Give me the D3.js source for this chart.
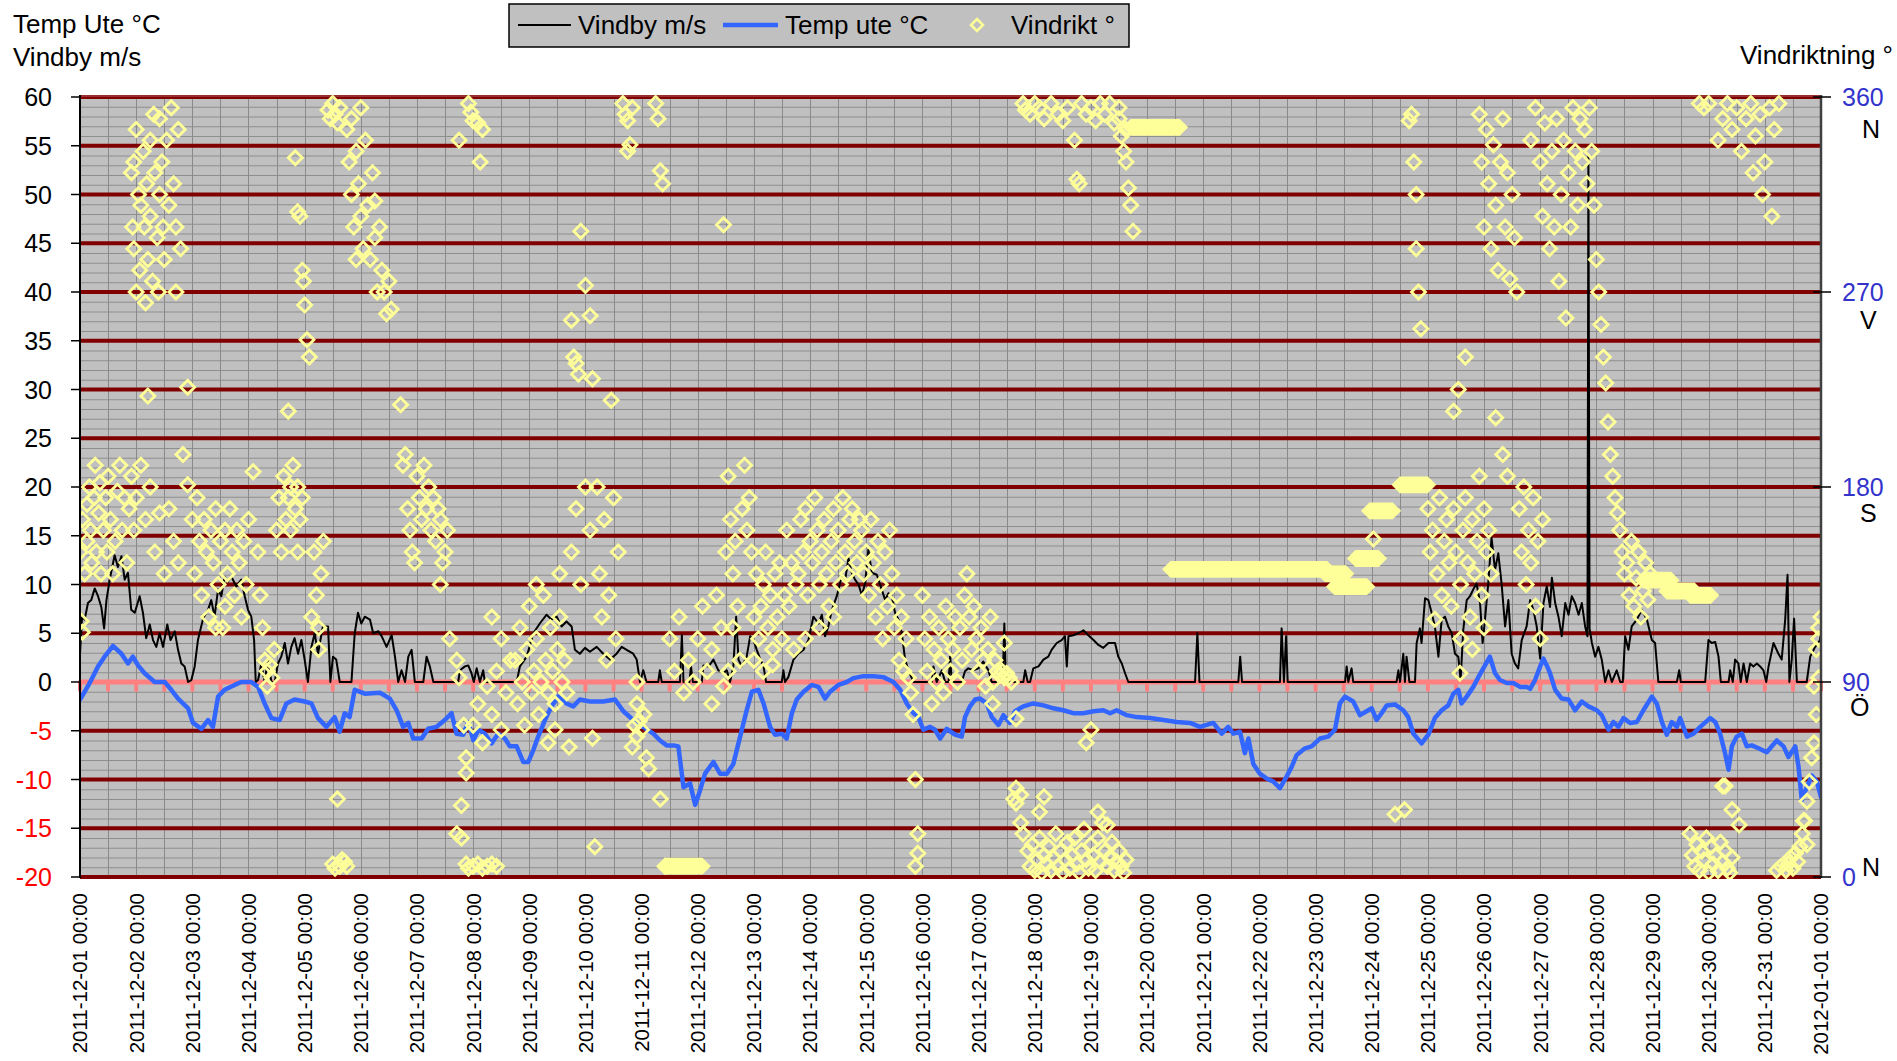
<!DOCTYPE html>
<html>
<head>
<meta charset="utf-8">
<script src="https://cdn.jsdelivr.net/npm/d3@7/dist/d3.min.js"></script>
<style>
  body { margin: 0; background: #ffffff; }
  svg text { font-family: "Liberation Sans", Arial, sans-serif; }
</style>
</head>
<body>
<svg id="chart" width="1897" height="1061"></svg>
<script>
////////////////////////////////////////////////////////////////////////
//
// Data. Time is hours after 2011-12-01 00:00
//
////////////////////////////////////////////////////////////////////////
var periodStart = "2011-12-01";
var periodHours = 744;

// Temp ute °C  [hour, value]
var tempUte = [
  [0,-1.8],[2.0,-1.0],[4.8,0.2],[7.7,1.6],[10.5,2.6],[14.1,3.7],[17.7,2.9],[20.5,1.9],[22.6,2.6],[24.8,1.7],
  [27.6,0.9],[31.9,0],[36.2,0],[39.0,-0.8],[41.9,-1.7],[46.2,-2.7],[48.3,-4.2],[51.9,-4.8],[54.7,-3.9],[56.8,-4.6],
  [59.0,-1.5],[61.8,-0.8],[66.1,-0.3],[68.9,0],[73.2,0],[76.1,-0.5],[78.9,-2.2],[81.8,-3.7],[85.3,-3.9],[88.2,-2.2],
  [91.7,-1.8],[96.0,-2.0],[98.9,-2.2],[101.7,-3.7],[105.3,-4.6],[108.8,-3.6],[111.0,-5.1],[113.1,-3.2],[115.2,-3.6],[117.4,-0.8],
  [121.7,-1.2],[128.2,-1.1],[132.4,-1.7],[135.3,-2.9],[138.1,-4.6],[140.3,-4.2],[142.4,-5.8],[146.0,-5.8],[148.8,-4.8],[152.4,-4.6],
  [155.9,-3.9],[158.8,-3.2],[160.9,-5.3],[163.8,-5.4],[165.9,-4.1],[168.1,-6.0],[170.2,-4.9],[173.0,-5.3],[175.9,-6.3],[178.7,-5.3],
  [181.6,-5.8],[183.7,-6.6],[186.6,-6.6],[189.4,-8.2],[191.6,-8.2],[193.7,-7.0],[195.8,-5.6],[198.7,-3.9],[201.5,-2.5],[204.4,-1.5],
  [207.9,-2.2],[210.8,-2.5],[213.6,-1.8],[217.9,-2.0],[223.6,-2.0],[228.6,-1.8],[232.2,-3.0],[236.4,-3.9],[240.7,-4.6],[245.0,-5.3],
  [247.9,-6.0],[250.7,-6.5],[253.6,-6.5],[255.7,-6.6],[257.9,-10.8],[260.7,-10.4],[262.9,-12.6],[265.0,-11.1],[267.1,-9.4],[270.7,-8.2],
  [273.5,-9.4],[276.4,-9.4],[279.2,-8.4],[282.1,-5.6],[284.9,-2.9],[287.1,-1.0],[289.9,-0.8],[292.1,-2.2],[294.9,-4.6],[297.0,-5.4],
  [299.9,-5.3],[302.0,-5.8],[304.2,-3.2],[306.3,-1.8],[309.2,-1.0],[312.7,-0.3],[315.6,-0.5],[318.4,-1.7],[320.5,-1.0],[324.1,-0.3],
  [327.7,0],[330.5,0.4],[334.8,0.6],[339.1,0.6],[343.3,0.5],[347.6,0],[350.5,-0.8],[353.3,-2.2],[356.2,-3.2],[358.3,-3.6],
  [360.4,-4.9],[363.3,-4.6],[365.4,-4.9],[367.6,-5.8],[370.4,-4.8],[373.9,-5.4],[376.8,-5.6],[378.2,-3.6],[380.3,-2.5],[382.5,-1.8],
  [384.6,-1.7],[387.5,-2.2],[389.6,-3.6],[392.5,-4.4],[394.6,-3.4],[397.4,-4.2],[399.6,-3.0],[403.1,-2.5],[407.4,-2.2],[411.7,-2.4],
  [416.0,-2.7],[420.2,-2.9],[424.5,-3.2],[428.8,-3.2],[433.1,-3.0],[437.3,-2.9],[440.2,-3.2],[443.0,-2.9],[447.3,-3.4],[451.6,-3.6],
  [457.3,-3.7],[463.0,-3.9],[468.7,-4.1],[474.4,-4.2],[478.6,-4.6],[484.3,-4.2],[487.9,-5.3],[490.7,-4.6],[492.9,-5.3],[495.7,-5.1],
  [497.8,-7.3],[499.3,-5.8],[501.4,-8.4],[504.2,-9.4],[507.1,-9.9],[509.9,-10.2],[512.8,-10.9],[515.6,-9.7],[517.8,-8.7],[519.9,-7.5],
  [523.5,-6.8],[526.3,-6.6],[529.9,-5.8],[533.4,-5.6],[536.3,-4.9],[538.4,-2.2],[540.6,-1.5],[544.1,-2.0],[547.0,-3.4],[549.8,-3.0],
  [552.0,-2.7],[554.1,-3.9],[556.2,-3.2],[558.4,-2.4],[561.9,-2.3],[565.5,-2.9],[567.6,-3.6],[569.8,-5.3],[573.3,-6.3],[576.2,-5.4],
  [579.0,-3.7],[581.9,-2.9],[584.7,-2.4],[586.9,-1.2],[589.0,-0.8],[590.4,-2.2],[592.6,-1.5],[595.4,-0.5],[597.6,0.5],[599.7,1.4],
  [602.5,2.6],[604.7,0.9],[606.8,0.2],[609.7,-0.1],[612.5,-0.1],[615.4,-0.5],[618.2,-0.5],[619.7,-0.7],[621.8,0.2],[624.0,1.6],
  [625.4,2.4],[626.8,1.7],[628.2,0.9],[630.4,-0.8],[633.2,-1.7],[636.1,-1.8],[638.9,-2.9],[641.8,-2.0],[644.6,-2.5],[648.2,-2.9],
  [650.3,-3.4],[653.2,-4.9],[655.3,-4.1],[657.4,-4.6],[659.6,-3.7],[662.4,-4.2],[665.3,-4.1],[668.1,-2.9],[671.7,-1.5],[673.8,-2.2],
  [676.0,-4.1],[678.1,-5.4],[680.2,-4.1],[682.4,-4.6],[683.8,-3.7],[686.7,-5.6],[689.5,-5.3],[692.4,-4.6],[696.6,-3.7],[698.8,-4.1],
  [700.9,-5.3],[703.0,-7.3],[704.5,-9.0],[705.9,-6.6],[708.0,-5.6],[710.2,-5.3],[712.3,-6.6],[714.4,-6.5],[717.3,-6.8],[720.8,-7.2],
  [725.1,-6.0],[728.0,-6.6],[730.1,-7.7],[733.0,-6.6],[734.4,-8.7],[735.8,-12.1],[737.9,-10.8],[740.1,-9.6],[742.2,-10.2],[744,-11.8]
];

// Vindby m/s  [hour, value]
var vindby = [
  [0,2.9],[0.9,6.7],[2.0,6.4],[3.4,8.1],[4.8,8.4],[6.3,9.6],[7.7,8.8],[9.1,7.7],[10.3,5.5],[11.3,8.4],
  [12.7,10.5],[14.8,13.0],[16.2,11.8],[17.7,12.9],[19.1,10.5],[20.5,11.2],[21.9,7.4],[23.4,7.1],[25.5,8.8],[26.9,7.1],
  [28.3,4.5],[29.8,5.9],[31.2,4.3],[32.6,3.6],[34.0,5.0],[35.5,3.6],[37.3,5.9],[38.7,4.3],[40.5,5.2],[41.9,3.3],
  [43.3,1.9],[44.7,1.6],[46.2,0],[47.6,0.2],[49.0,1.6],[50.4,4.3],[52.6,6.5],[54.7,7.4],[56.1,8.4],[57.5,6.7],
  [59.0,9.5],[60.4,8.8],[61.8,10.8],[63.2,10.3],[64.7,10.8],[66.8,9.8],[68.9,10.5],[70.4,8.8],[71.8,7.4],[73.2,6.7],
  [74.4,4.3],[75.1,0],[76.1,0.2],[77.5,1.9],[78.9,0],[80.3,2.3],[81.8,0],[83.2,0],[84.6,1.9],[86.0,2.6],
  [87.5,4.0],[88.9,1.9],[90.3,3.6],[91.7,4.5],[93.2,2.9],[94.6,4.3],[96.0,2.3],[97.4,0],[98.9,3.6],[100.3,5.0],
  [101.7,2.9],[103.8,5.7],[106.0,5.7],[107.0,0],[108.1,2.6],[109.5,2.3],[111.0,0],[116.0,0],[117.4,5.0],[118.8,7.1],
  [120.2,6.0],[121.7,6.7],[123.9,6.4],[125.3,5.0],[127.5,5.2],[128.9,4.7],[131.0,3.6],[133.2,4.8],[134.6,2.6],[136.0,0],
  [137.4,1.2],[138.9,0],[140.3,2.6],[141.7,3.3],[143.1,0],[146.7,0],[148.1,2.6],[149.5,1.6],[151.0,0],[161.6,0],
  [162.4,1.2],[164.5,1.6],[165.9,1.7],[167.3,0.9],[168.3,0],[169.5,1.4],[170.9,0],[172.3,1.2],[173.0,0],[186.6,0],
  [188.0,1.6],[190.9,2.6],[193.7,5.0],[196.5,6.0],[199.4,6.9],[201.5,6.4],[203.7,6.7],[205.8,5.7],[207.9,6.2],[210.1,5.7],
  [211.5,3.3],[213.6,2.9],[215.8,3.5],[217.9,3.1],[220.8,3.6],[223.6,2.9],[226.5,2.3],[229.3,2.9],[231.5,3.6],[233.6,3.3],
  [236.4,2.9],[237.9,2.3],[239.3,0],[240.7,1.2],[242.1,0],[247.1,0],[247.8,1.2],[248.6,0],[256.4,0],[257.2,4.8],
  [257.9,0],[260.4,0],[261.1,1.6],[261.9,0],[265.7,0],[266.4,1.7],[268.6,1.6],[270.7,2.3],[272.8,1.2],[275.0,0.9],
  [276.4,1.2],[277.8,0],[279.2,1.6],[280.4,6.7],[281.4,2.3],[282.8,1.6],[284.9,2.6],[286.4,4.7],[287.8,4.3],[289.2,3.3],
  [290.6,2.4],[292.1,1.6],[293.2,0],[299.9,0],[300.6,1.2],[301.3,0],[302.7,0.5],[304.9,2.3],[307.0,2.9],[309.2,3.3],
  [311.3,4.3],[313.4,6.7],[315.6,6.0],[317.0,6.9],[318.4,4.7],[319.8,5.7],[321.3,7.4],[323.4,8.8],[325.5,10.8],[327.0,10.5],
  [328.4,12.7],[329.8,11.2],[331.2,10.5],[332.7,10.0],[334.1,8.9],[335.5,10.1],[336.9,13.6],[338.4,11.2],[340.5,11.0],[342.6,9.5],
  [344.1,8.4],[345.5,9.1],[346.9,8.8],[348.3,7.1],[349.8,6.4],[351.2,5.0],[352.6,2.3],[354.0,1.2],[356.2,0],[364.0,0],
  [364.7,1.6],[366.1,0],[368.3,1.2],[369.7,0],[371.2,0],[371.8,2.6],[372.6,0],[376.8,0],[378.2,1.1],[379.6,1.4],
  [381.8,1.2],[383.9,1.4],[386.0,2.1],[388.2,1.2],[389.6,0],[394.3,0],[395.0,6.0],[395.7,0],[403.1,0],[403.9,1.2],
  [405.0,0],[406.0,0],[407.4,1.4],[409.6,1.6],[411.7,2.3],[413.8,2.6],[415.2,3.3],[417.4,4.0],[419.5,4.3],[420.9,4.7],
  [421.7,1.6],[422.4,4.7],[424.5,4.8],[426.6,5.0],[428.8,5.3],[430.9,4.8],[433.1,4.3],[435.2,3.8],[437.3,3.5],[439.5,4.0],
  [442.3,4.0],[443.7,2.6],[445.2,1.9],[446.6,0.9],[448.0,0],[476.5,0],[477.5,5.0],[478.4,0],[495.0,0],[495.8,2.6],
  [496.6,0],[512.8,0],[513.5,5.5],[514.5,0],[515.4,4.7],[516.1,0],[540.6,0],[541.3,1.6],[542.0,0],[543.4,1.4],
  [544.1,0],[562.6,0],[563.4,1.2],[564.1,0],[565.5,2.9],[566.2,0],[566.9,2.6],[568.1,0],[570.5,0],[571.2,4.0],
  [572.6,5.5],[573.3,4.0],[574.8,8.6],[576.2,8.4],[577.6,7.1],[579.0,5.7],[580.5,2.6],[581.9,6.4],[583.3,6.7],[584.7,5.7],
  [586.2,5.0],[587.6,2.9],[589.0,2.6],[590.0,0.2],[591.1,5.3],[592.6,8.4],[594.0,8.8],[595.4,9.5],[596.8,10.1],[598.3,8.1],
  [599.4,4.0],[600.4,6.4],[601.8,10.1],[603.2,14.8],[604.7,11.5],[606.1,13.2],[607.5,10.1],[609.0,5.7],[610.4,8.4],[611.8,2.9],
  [613.2,1.9],[614.6,1.4],[616.1,4.3],[618.2,5.7],[619.7,8.4],[621.1,7.4],[622.5,5.7],[624.0,2.4],[625.4,8.1],[626.8,9.8],
  [628.2,7.7],[629.0,10.7],[630.4,8.1],[631.8,6.7],[633.2,4.7],[634.7,8.1],[636.1,6.9],[637.5,8.8],[638.9,8.1],[640.4,6.9],
  [641.8,8.1],[643.2,5.7],[644.2,4.7],[644.6,54],[645.1,5.5],[646.1,4.0],[647.5,2.6],[648.9,3.6],[650.3,2.3],[651.8,0],
  [653.2,1.2],[654.6,0],[656.7,1.2],[658.2,0],[659.3,0],[660.3,4.7],[661.7,3.3],[663.1,5.7],[665.3,6.4],[667.4,7.4],
  [669.6,6.4],[671.7,4.3],[673.1,4.0],[674.5,0],[682.4,0],[683.4,1.2],[684.1,0],[694.5,0],[695.9,4.3],[697.3,4.0],
  [698.8,4.1],[700.2,2.6],[701.2,0],[704.5,0],[705.2,1.2],[706.3,0],[707.3,2.3],[708.7,1.9],[709.7,0],[710.9,1.9],
  [712.3,0],[713.7,1.9],[715.1,1.6],[716.6,1.9],[718.0,1.6],[719.4,1.2],[720.6,0],[721.6,1.6],[723.7,4.0],[725.8,2.9],
  [727.2,2.3],[728.7,6.4],[729.7,11.0],[730.5,0],[731.5,2.3],[732.5,6.5],[733.7,0],[737.9,0],[739.4,2.6],[741.5,3.6],
  [743.6,4.3],[744,5.5]
];

// Vindrikt °  [hour, degrees]
var vindrikt = [
  [0,150],[1,165],[0.5,118],[1,113],[2,140],[3,172],[3,155],[4,180],[4.5,160],[5,145],[6,175],[6.5,190],[7,150],[8,168],
  [8.5,182],[9,140],[10,160],[11,175],[11.5,150],[12,185],[13,165],[14,140],[15,155],[16,178],[17,190],[18,160],[19,175],
  [20,145],[21,170],[22,185],[23,160],
  [22,325],[22.5,300],[23,330],[23,290],[24,270],[24,345],[25,315],[25.5,280],[26,310],[27,335],[27.5,300],[28,265],
  [28.5,320],[29,285],[30,340],[30,305],[31,275],[31.5,352],[32,325],[33,295],[33.5,270],[34,350],[34,315],[35,330],
  [35.5,300],[36,285],[37,340],[38,310],[39,355],[40,320],[41,300],[41,270],[42,345],[43,290],[29,222],
  [24,175],[26,190],[28,165],[30,180],[32,150],[34,168],[36,140],[38,170],[40,155],[42,145],
  [46,226],[44,195],[46,181],[48,165],[49,140],[50,175],[51,155],[52,130],[53,165],[54,150],[55,120],[56,160],[57,145],
  [58,170],[59,135],[60,155],[61,115],[62,160],[63,140],[64,170],[65,150],[66,130],[67,160],[68,145],[69,120],[70,155],
  [71,135],[72,165],[62,125],[58,115],
  [74,187],[76,150],[77,130],[78,115],[79,100],[80,95],[81,98],[82,92],[83,105],[80,88],[84,160],[85,175],[86,150],
  [87,185],[88,165],[89,175],[90,180],[90,160],[91,190],[92,170],[93,180],[94,165],[95,175],[93,150],[89,215],
  [92,332],[93,307],[94,305],[95,280],[95.5,275],[96,264],[97,248],[98,240],
  [100,150],[101,130],[102,115],[103,140],[104,155],[102,105],[99,120],
  [106,354],[107,350],[108,357],[109,352],[110,348],[111,355],
  [110,36],[112,8],[108,6],[109,4],[111,5],[113,7],[114,5],
  [114,345],[115,330],[116,315],[117,300],[118,335],[118,285],[119,320],[120,305],[121,290],[122,340],[123,310],[124,285],
  [125,325],[126,295],[127,270],[128,300],[129,280],[130,270],[131,260],[132,275],[133,262],[116,350],[120,355],[126,312],
  [137,218],[138,190],[139,195],[140,170],[141,160],[142,150],[143,145],[144,185],[145,175],[146,165],[147,190],[148,170],
  [149,180],[150,160],[151,175],[152,155],[153,170],[154,165],[155,145],[156,150],[157,160],[158,110],[154,135],
  [162,340],[166,357],[167,353],[168,349],[170,348],[172,345],[171,330],
  [161,100],[162,92],[164,70],[165,55],[165,48],[163,33],[161,20],[163,18],[165,6],[166,4],[168,5],[170,6],[172,4],
  [174,5],[176,6],[178,5],
  [168,70],[170,80],[172,62],[174,88],[176,75],[178,95],[180,68],[182,85],[184,100],[180,110],[176,120],
  [186,100],[187,80],[188,115],[189,90],[190,70],[191,105],[192,125],[193,85],[194,95],[195,110],[196,75],[197,90],
  [198,130],[199,100],[200,85],[201,115],[202,95],[203,80],[204,105],[205,120],[206,90],[207,100],[208,85],[209,60],
  [200,62],[203,68],[195,135],[205,140],
  [210,257],[211,240],[212,237],[213,232],[214,298],[216,273],[218,259],[219,230],[210,150],[212,170],[214,135],[216,180],
  [218,160],[219,64],[220,14],[221,180],[222,140],[223,120],[224,165],[225,100],[226,130],[227,220],[228,175],[229,110],
  [230,150],
  [232,357],[233,352],[234,349],[234,335],[235,338],[236,355],
  [236,60],[237,70],[238,80],[238,65],[239,72],[240,68],[241,75],[242,55],[243,50],[238,90],
  [246,357],[247,350],[248,326],[249,320],[248,36],[250,5],
  [252,110],[254,95],[256,120],[258,85],[260,100],
  [262,90],[264,110],[266,125],[268,95],[270,105],[272,130],[274,115],[275,301],[276,150],[277,185],[278,165],[279,140],
  [280,155],[281,125],[282,100],[277,95],[279,115],[270,80],[275,88],
  [283,170],[284,190],[285,160],[286,175],[287,150],[288,120],[289,140],[290,110],[291,125],[292,135],[293,150],[294,115],
  [295,130],[296,105],[297,140],[298,120],[299,145],[300,110],[301,130],[302,160],[303,125],[304,145],[305,105],[306,135],
  [288,100],[292,95],[296,98],
  [307,140],[308,165],[309,150],[310,170],[311,130],[312,155],[313,145],[314,175],[315,160],[316,135],[317,150],[318,165],
  [319,140],[320,125],[321,155],[322,170],[323,145],[324,160],[325,135],[326,175],[327,150],[328,140],[329,165],[310,110],
  [316,115],[322,120],
  [330,170],[331,155],[332,145],[333,165],[334,160],[335,140],[336,150],[337,130],[338,165],[339,145],[340,120],[341,155],
  [342,135],[343,110],[344,150],[345,125],[346,160],[347,140],[348,115],[349,130],[350,100],[351,120],[352,95],[353,110],
  [354,92],[355,85],[356,75],[357,45],[358,20],[358,11],[357,5],[360,130],[361,110],[362,95],[363,120],[364,80],[365,105],
  [366,90],[367,115],[368,100],[369,85],[370,125],[371,110],[372,95],[373,105],[374,120],[375,90],[376,115],[377,100],
  [378,130],
  [379,140],[380,120],[381,105],[382,125],[383,110],[384,95],[385,115],[386,100],[387,88],[388,105],[389,120],[390,90],
  [391,100],[392,95],[393,93],[394,95],[395,92],[396,94],[397,92],[398,90],[399,36],[400,34],[395,108],[390,80],
  [400,73],[432,68],[430,62],[400,41],[402,38],[412,37],[402,25],[439,24],
  [403,20],[405,12],[406,5],[407,15],[408,3],[409,8],[410,18],[411,2],[412,10],[413,6],[414,14],[415,3],[416,9],[417,20],
  [418,5],[419,12],[420,2],[421,8],[422,16],[423,4],[424,10],[425,18],[426,6],[427,2],[428,12],[429,22],[430,8],[431,4],
  [432,15],[433,10],[434,3],[435,18],[436,7],[437,25],[438,12],[439,5],[440,9],[441,16],[442,3],[443,7],[444,12],[445,5],
  [446,2],[447,8],[410,30],[435,30],
  [403,357],[404,354],[406,352],[408,357],[410,355],[412,350],[415,357],[418,352],[420,349],[422,355],[425,340],[426,322],
  [427,320],[428,357],[430,352],[432,355],[434,349],[436,357],[438,352],[440,357],[442,348],[444,350],[445,342],[446,335],
  [447,330],[448,318],[449,310],[450,298],[447,345],[444,355],
  [552.7,156],[562,29],[566,31],[568,349],[569,352],[570,330],[571,315],[571,290],[572,270],[573,253],
  [576,170],[577,150],[578,160],[579,119],[580,140],[581,175],[582,130],[583,155],[584,165],[585,145],[586,125],[587,170],
  [588,150],[589.7,94],[590,135],[591,160],[592,175],[593,145],[594,120],[595,165],[596,140],[597,155],[598,185],[599,130],
  [600,170],[601,150],[602,160],[603,140],[590,110],[595,105],[600,115],[587,215],[589,225],[592,240],
  [598,352],[599,330],[600,300],[601,345],[602,320],[603,290],[604,338],[605,310],[606,280],[607,330],[608,350],[609,300],
  [610,325],[611,276],[612,315],[613,295],[614,270],[605,212],[608,195],[610,185],
  [615,170],[616,150],[617,180],[618,135],[619,160],[620,145],[621,175],[622,125],[623,155],[624,110],[625,165],
  [620,340],[622,355],[624,330],[625,305],[626,348],[627,320],[628,290],[629,335],[630,300],[631,350],[632,275],[633,315],
  [634,340],[635,258],[636,325],[637,300],[638,355],[639,335],[640,310],[641,350],[642,330],[643,345],[644,320],[645,355],
  [646,335],[647,310],
  [648,285],[649,270],[650,255],[651,240],[652,228],[653,210],[654,195],[655,185],[656,175],[657,168],[658,160],[659,150],
  [660,140],[661,145],[662,130],[663,155],[664,125],[665,138],[666,150],[667,120],[668,132],[669,145],[670,128],[671,140],
  [688,20],[689,10],[690,5],[691,15],[692,3],[693,12],[694,8],[695,18],[696,2],[697,14],[698,6],[699,10],[700,3],[701,16],
  [702,7],[703,12],[704,4],[705,2],[706,9],[702,42],[703,42],[706,31],[709,24],
  [692,357],[694,355],[696,357],[700,340],[702,350],[704,357],[706,345],[708,355],[710,335],[712,350],[714,357],[716,342],
  [718,352],[720,330],[722,355],[724,345],[726,357],[715,325],[719,315],[723,305],
  [725,3],[727,5],[729,3],[730,6],[731,9],[732,4],[733,11],[734,7],[735,14],[736,20],[737,26],[738,35],[739,44],[740,55],
  [741,62],[742,75],[743,92],[742,105],[743,115],[744,120],[743,110],[741,88],[738,15],[736.5,26]
];

// Vindrikt ° where the markers lie so thick they merge:  [from hour, to hour, degrees]
var vindriktRuns = [
  [250,266,5],[449,470,346],[466,533,142],[532,541,140],[536,550,134],[545,555,147],[551,561,169],[564,576,181],
  [668,680,137],[678,690,132],[688,697,130]
];

var leftTicks = [-20,-15,-10,-5,0,5,10,15,20,25,30,35,40,45,50,55,60];
var rightTicks = [0,90,180,270,360];
var compassLabels = ["N","Ö","S","V","N"];
var legendLabels = ["Vindby m/s","Temp ute °C","Vindrikt °"];


////////////////////////////////////////////////////////////////////////
//
// Layout and scales
//
////////////////////////////////////////////////////////////////////////
var plotLeft = 80, plotRight = 1821, plotTop = 97, plotBottom = 877;
var t0 = new Date(periodStart + "T00:00:00Z").getTime();
function toTime(h) { return new Date(t0 + h * 3600000); }

var x = d3.scaleUtc().domain([toTime(0), toTime(periodHours)]).range([plotLeft, plotRight]);
var yLeft = d3.scaleLinear().domain([-20, 60]).range([plotBottom, plotTop]);
var yRight = d3.scaleLinear().domain([0, 360]).range([plotBottom, plotTop]);

var svg = d3.select("#chart");

//plot background
svg.append("rect")
  .attr("x", plotLeft).attr("y", plotTop)
  .attr("width", plotRight - plotLeft).attr("height", plotBottom - plotTop)
  .attr("fill", "#c0c0c0");

var grid = svg.append("g");

//minor grid, every unit
grid.selectAll("line.minor")
  .data(d3.range(-20, 61, 1))
  .enter().append("line")
  .attr("x1", plotLeft).attr("x2", plotRight)
  .attr("y1", d => yLeft(d) + 0.5).attr("y2", d => yLeft(d) + 0.5)
  .attr("stroke", "#8e8e8e").attr("stroke-width", 1);

//vertical grid, every 12 hours
var halfDays = x.ticks(d3.utcHour.every(12));
grid.selectAll("line.vert")
  .data(halfDays)
  .enter().append("line")
  .attr("x1", d => Math.round(x(d)) + 0.5).attr("x2", d => Math.round(x(d)) + 0.5)
  .attr("y1", plotTop).attr("y2", plotBottom)
  .attr("stroke", "#8a8a8a").attr("stroke-width", 1);

//major grid, every 5
grid.selectAll("line.major")
  .data(leftTicks.filter(d => d !== 0))
  .enter().append("line")
  .attr("x1", plotLeft).attr("x2", plotRight)
  .attr("y1", d => yLeft(d)).attr("y2", d => yLeft(d))
  .attr("stroke", "#800000").attr("stroke-width", 4);

//zero line with its small marks
grid.append("line")
  .attr("x1", plotLeft).attr("x2", plotRight)
  .attr("y1", yLeft(0)).attr("y2", yLeft(0))
  .attr("stroke", "#ff8080").attr("stroke-width", 5);
grid.selectAll("line.zmark")
  .data(halfDays)
  .enter().append("line")
  .attr("x1", d => x(d)).attr("x2", d => x(d))
  .attr("y1", yLeft(0)).attr("y2", yLeft(0) + 8)
  .attr("stroke", "#ff8080").attr("stroke-width", 4)
  .attr("stroke-linecap", "round");

svg.append("line")
  .attr("x1", plotLeft).attr("x2", plotRight)
  .attr("y1", plotTop - 1).attr("y2", plotTop - 1)
  .attr("stroke", "#a04040").attr("stroke-width", 1.5);

//clip for the series
svg.append("clipPath").attr("id", "plotClip")
  .append("rect")
  .attr("x", plotLeft).attr("y", plotTop - 2)
  .attr("width", plotRight - plotLeft).attr("height", plotBottom - plotTop + 4);

var series = svg.append("g").attr("clip-path", "url(#plotClip)");

var valueLine = d3.line()
  .x(d => x(toTime(d[0])))
  .y(d => yLeft(d[1]));

series.append("path")
  .datum(vindby)
  .attr("d", valueLine)
  .attr("fill", "none")
  .attr("stroke", "#000000")
  .attr("stroke-width", 2)
  .attr("stroke-linejoin", "round");

series.append("path")
  .datum(tempUte)
  .attr("d", valueLine)
  .attr("fill", "none")
  .attr("stroke", "#3366ff")
  .attr("stroke-width", 4.5)
  .attr("stroke-linejoin", "round")
  .attr("stroke-linecap", "round");

//direction markers
var r = 7;
function diamond(cx, cy) {
  return "M" + cx + "," + (cy - r) + "L" + (cx + r) + "," + cy + "L" + cx + "," + (cy + r) + "L" + (cx - r) + "," + cy + "Z";
}
var markerColour = "#ffff99";

series.selectAll("path.run")
  .data(vindriktRuns)
  .enter().append("path")
  .attr("d", function(d)
    {
    var xa = x(toTime(d[0])), xb = x(toTime(d[1])), yy = yRight(d[2]), e = r + 1.4;
    return "M" + (xa - e) + "," + yy + "L" + xa + "," + (yy - e) + "L" + xb + "," + (yy - e) +
           "L" + (xb + e) + "," + yy + "L" + xb + "," + (yy + e) + "L" + xa + "," + (yy + e) + "Z";
    })
  .attr("fill", markerColour);

series.selectAll("path.dir")
  .data(vindrikt)
  .enter().append("path")
  .attr("d", d => diamond(x(toTime(d[0])), yRight(d[1])))
  .attr("fill", "none")
  .attr("stroke", markerColour)
  .attr("stroke-width", 2.8);

//axes
svg.append("line")
  .attr("x1", plotLeft).attr("x2", plotLeft)
  .attr("y1", plotTop - 2).attr("y2", plotBottom + 1)
  .attr("stroke", "#000").attr("stroke-width", 2);
svg.append("line")
  .attr("x1", plotRight).attr("x2", plotRight)
  .attr("y1", plotTop - 2).attr("y2", plotBottom + 1)
  .attr("stroke", "#404040").attr("stroke-width", 2.5);

var leftAxis = svg.append("g");
leftAxis.selectAll("line")
  .data(leftTicks)
  .enter().append("line")
  .attr("x1", plotLeft - 9).attr("x2", plotLeft)
  .attr("y1", d => yLeft(d)).attr("y2", d => yLeft(d))
  .attr("stroke", "#000").attr("stroke-width", 1.5);
leftAxis.selectAll("text")
  .data(leftTicks)
  .enter().append("text")
  .attr("x", 52).attr("y", d => yLeft(d))
  .attr("dy", "0.36em")
  .attr("text-anchor", "end")
  .attr("font-size", 25)
  .attr("fill", d => d < 0 ? "#ff0000" : "#000000")
  .text(d => d);

var rightAxis = svg.append("g");
rightAxis.selectAll("line")
  .data(rightTicks)
  .enter().append("line")
  .attr("x1", plotRight - 8).attr("x2", plotRight + 10)
  .attr("y1", d => yRight(d)).attr("y2", d => yRight(d))
  .attr("stroke", "#000").attr("stroke-width", 1.5);
rightAxis.selectAll("text.deg")
  .data(rightTicks)
  .enter().append("text")
  .attr("x", 1842).attr("y", d => yRight(d))
  .attr("dy", "0.36em")
  .attr("font-size", 25)
  .attr("fill", "#3333cc")
  .text(d => d);

//compass letters sit just under the degree labels (the last N just above)
var compassDy = [-10, 25, 26, 28, 32];
var compassDx = [1862, 1850, 1860, 1860, 1862];
rightAxis.selectAll("text.compass")
  .data(compassLabels)
  .enter().append("text")
  .attr("x", (d, i) => compassDx[i])
  .attr("y", (d, i) => yRight(rightTicks[i]) + compassDy[i])
  .attr("dy", "0.36em")
  .attr("font-size", 25)
  .attr("fill", "#000")
  .text(d => d);

//date labels
var fmt = d3.utcFormat("%Y-%m-%d %H:%M");
svg.append("g").selectAll("text")
  .data(x.ticks(d3.utcDay.every(1)))
  .enter().append("text")
  .attr("transform", d => "translate(" + x(d) + "," + 893 + ") rotate(-90)")
  .attr("dy", "0.36em")
  .attr("text-anchor", "end")
  .attr("font-size", 20.5)
  .attr("fill", "#000")
  .text(d => fmt(d));

//axis titles
svg.append("text").attr("x", 13).attr("y", 33).attr("font-size", 26).text("Temp Ute °C");
svg.append("text").attr("x", 13).attr("y", 66).attr("font-size", 26).text("Vindby m/s");
svg.append("text").attr("x", 1893).attr("y", 64).attr("font-size", 26)
  .attr("text-anchor", "end").text("Vindriktning °");

//legend
var legend = svg.append("g");
legend.append("rect")
  .attr("x", 509).attr("y", 4).attr("width", 620).attr("height", 43)
  .attr("fill", "#c0c0c0").attr("stroke", "#000").attr("stroke-width", 1.5);
legend.append("line").attr("x1", 518).attr("x2", 571).attr("y1", 25).attr("y2", 25)
  .attr("stroke", "#000").attr("stroke-width", 2);
legend.append("line").attr("x1", 723).attr("x2", 778).attr("y1", 25).attr("y2", 25)
  .attr("stroke", "#3366ff").attr("stroke-width", 4.5);
r = 6;
legend.append("path").attr("d", diamond(977, 25))
  .attr("fill", "none").attr("stroke", markerColour).attr("stroke-width", 2.5);
var legendX = [578, 785, 1011];
legend.selectAll("text")
  .data(legendLabels)
  .enter().append("text")
  .attr("x", (d, i) => legendX[i]).attr("y", 25)
  .attr("dy", "0.36em")
  .attr("font-size", 26)
  .text(d => d);
</script>
</body>
</html>
